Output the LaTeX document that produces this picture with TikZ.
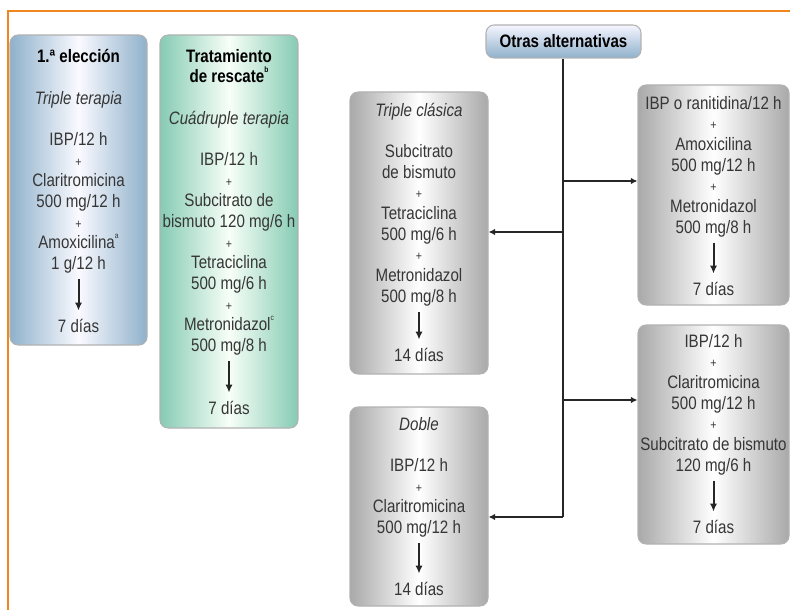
\documentclass[tikz,border=0pt]{standalone}
\usepackage{fontspec}
\setmainfont{Liberation Sans}[FakeStretch=0.84]
\usetikzlibrary{arrows.meta}
\definecolor{frameorange}{HTML}{F0871E}
\definecolor{bluefill}{HTML}{8FB1CB}
\definecolor{greenfill}{HTML}{86CBB4}
\definecolor{greyfill}{HTML}{A9A9A9}
\definecolor{txt}{HTML}{363636}
\newcommand\andplus{{\fontsize{9.5pt}{15.5pt}\selectfont+}}
\newcommand\note[1]{\raisebox{0.55em}{\fontsize{6pt}{6pt}\selectfont#1}}
\tikzset{
  frame/.style = {draw=frameorange, line width=2pt},
  box/.style = {draw=black!30, rounded corners=6pt, inner sep=0pt},
  bluebox/.style = {box, left color=bluefill, right color=bluefill, middle color=blue!2!white},
  greenbox/.style = {box, left color=greenfill, right color=greenfill, middle color=green!3!white},
  greybox/.style = {box, left color=greyfill, right color=greyfill, middle color=white},
  headbox/.style = {box, top color=blue!4!white, bottom color=bluefill},
  textblock/.style = {align=center, anchor=north, inner sep=0pt, text=txt,
    font=\fontsize{13.5pt}{15.5pt}\selectfont},
  conn/.style = {draw=black!85, line width=1.5pt},
  arr/.style = {conn, -{Latex[length=5pt,width=5pt]}},
  dur/.style = {conn, -{Latex[length=6pt,width=5.5pt]}, shorten <=4pt, shorten >=6pt}
}

\begin{document}
\begin{tikzpicture}[x=0.75pt, y=-0.75pt, thick]
  \useasboundingbox (0,0) rectangle (790,610);
  \draw[frame] (8,610) -- (8,11) -- (790,11);

  \node[bluebox, minimum width=102.75pt, minimum height=232.5pt] (first) at (78.5,190) {};
  \node[textblock] (firstlist) at (78.5,49) {{\bfseries\color{black}1.ª elección}\\[15.5pt]
    \textit{Triple terapia}\\[15.5pt] IBP/12 h\\ \andplus\\ Claritromicina\\ 500 mg/12 h\\
    \andplus\\ Amoxicilina\note{a}\\ 1 g/12 h};
  \node[textblock] (firstdays) at (78.5,318.5) {7 días};
  \draw[dur] (firstlist) -- (firstdays);

  \node[greenbox, minimum width=103.5pt, minimum height=294.75pt] (rescue) at (229,231.5) {};
  \node[textblock] (rescuelist) at (229,48.5) {{\bfseries\color{black}Tratamiento}\\
    {\bfseries\color{black}de rescate\note{b}}\\[15.5pt]
    \textit{Cuádruple terapia}\\[15.5pt] IBP/12 h\\ \andplus\\ Subcitrato de\\ bismuto 120 mg/6 h\\
    \andplus\\ Tetraciclina\\ 500 mg/6 h\\ \andplus\\ Metronidazol\note{c}\\ 500 mg/8 h};
  \node[textblock] (rescuedays) at (229,400.5) {7 días};
  \draw[dur] (rescuelist) -- (rescuedays);

  \node[headbox, minimum width=116.25pt, minimum height=24.75pt] (other) at (563.5,41.5) {};
  \node[textblock] (othertext) at (563.5,34) {\bfseries\color{black}Otras alternativas};

  \node[greybox, minimum width=103.5pt, minimum height=211.5pt] (triple) at (419,233) {};
  \node[textblock] (triplelist) at (419,102.5) {\textit{Triple clásica}\\[15.5pt] Subcitrato\\
    de bismuto\\ \andplus\\ Tetraciclina\\ 500 mg/6 h\\ \andplus\\ Metronidazol\\ 500 mg/8 h};
  \node[textblock] (tripledays) at (419,347.5) {14 días};
  \draw[dur] (triplelist) -- (tripledays);

  \node[greybox, minimum width=103.5pt, minimum height=149.25pt] (dual) at (419,506.5) {};
  \node[textblock] (duallist) at (419,416.5) {\textit{Doble}\\[15.5pt] IBP/12 h\\ \andplus\\
    Claritromicina\\ 500 mg/12 h};
  \node[textblock] (dualdays) at (419,581.5) {14 días};
  \draw[dur] (duallist) -- (dualdays);

  \node[greybox, minimum width=113.25pt, minimum height=165pt] (ranit) at (713.5,195) {};
  \node[textblock] (ranitlist) at (713.5,95.5) {IBP o ranitidina/12 h\\ \andplus\\ Amoxicilina\\
    500 mg/12 h\\ \andplus\\ Metronidazol\\ 500 mg/8 h};
  \node[textblock] (ranitdays) at (713.5,281.5) {7 días};
  \draw[dur] (ranitlist) -- (ranitdays);

  \node[greybox, minimum width=113.25pt, minimum height=164.25pt] (bism) at (713.5,434.5) {};
  \node[textblock] (bismlist) at (713.5,333.5) {IBP/12 h\\ \andplus\\ Claritromicina\\
    500 mg/12 h\\ \andplus\\ Subcitrato de bismuto\\ 120 mg/6 h};
  \node[textblock] (bismdays) at (713.5,519.5) {7 días};
  \draw[dur] (bismlist) -- (bismdays);

  \coordinate (j1) at (563,181);
  \coordinate (j2) at (563,232);
  \coordinate (j3) at (563,400);
  \coordinate (j4) at (563,517);
  \draw[conn] (other.south -| j4) -- (j4);
  \draw[arr] (j1) -- (j1 -| ranit.west);
  \draw[arr] (j2) -- (j2 -| triple.east);
  \draw[arr] (j3) -- (j3 -| bism.west);
  \draw[arr] (j4) -- (j4 -| dual.east);
\end{tikzpicture}
\end{document}
